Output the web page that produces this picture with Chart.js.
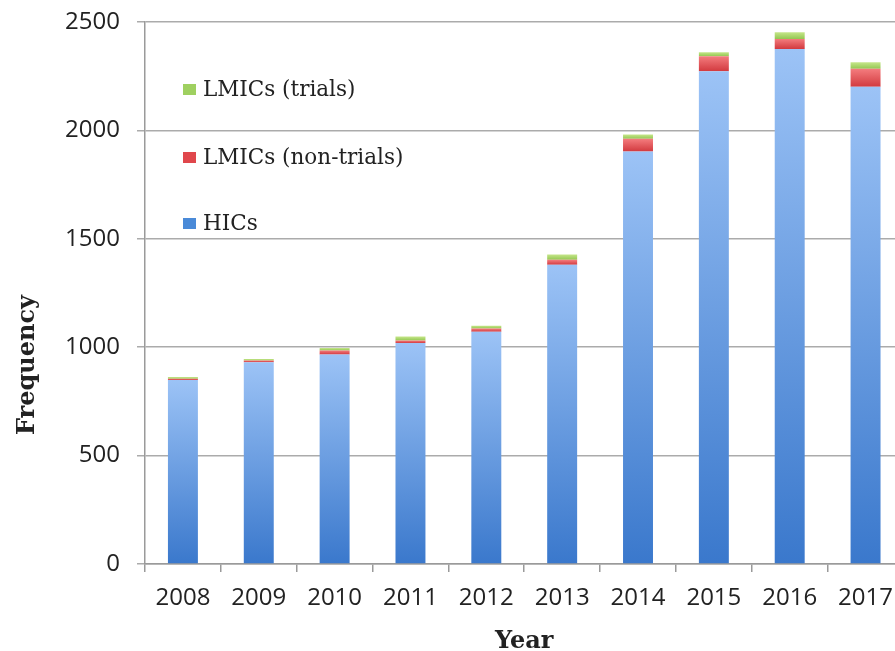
<!DOCTYPE html>
<html><head><meta charset="utf-8">
<style>
html,body{margin:0;padding:0;overflow:hidden;background:#fff;width:895px;height:651px}
#wrap{width:905px;height:651px;position:relative}
</style>
<script src="https://cdn.jsdelivr.net/npm/chart.js@4.4.1/dist/chart.umd.min.js"></script>
</head><body><div id="wrap"><canvas id="c"></canvas></div>
<script>
const years = ['2008','2009','2010','2011','2012','2013','2014','2015','2016','2017'];
const hics = [849, 931, 966, 1019, 1071, 1380, 1903, 2273, 2376, 2201];
const lmicsNonTrials = [5, 8, 19, 12, 15, 23, 58, 69, 46, 83];
const lmicsTrials = [8, 6, 11, 18, 13, 25, 20, 19, 31, 30];
const seriesNames = ['HICs', 'LMICs (non-trials)', 'LMICs (trials)'];
const yMax = 2500, yStep = 500;

const seriesList = [hics, lmicsNonTrials, lmicsTrials];
const gradStops = [
  ['#3a78cc', '#9cc3f6'],
  ['#d23a3f', '#f47c7e'],
  ['#93c752', '#c6e68a']
];
const solid = ['#4a8ad8', '#e0474c', '#9fd060'];

function grad(ctx) {
  const d = ctx.datasetIndex;
  const chart = ctx.chart;
  if (!chart.chartArea || ctx.dataIndex === undefined) return solid[d];
  const i = ctx.dataIndex;
  let start = 0;
  for (let k = 0; k < d; k++) start += seriesList[k][i];
  const end = start + seriesList[d][i];
  const y = chart.scales.y;
  const g = chart.ctx.createLinearGradient(0, y.getPixelForValue(start), 0, y.getPixelForValue(end));
  g.addColorStop(0, gradStops[d][0]);
  g.addColorStop(1, gradStops[d][1]);
  return g;
}

const legendPlugin = {
  id: 'insideLegend',
  afterDraw(chart) {
    const c = chart.ctx, a = chart.chartArea;
    const offs = [202, 136, 68];
    c.save();
    c.font = '21.5px "DejaVu Serif"';
    c.textBaseline = 'middle';
    for (let d = 2; d >= 0; d--) {
      const cy = a.top + offs[d];
      c.fillStyle = solid[d];
      c.fillRect(a.left + 38, cy - 6, 13, 11);
      c.fillStyle = '#222';
      c.fillText(seriesNames[d], a.left + 58, cy);
    }
    // y-axis title
    c.translate(28, 365);
    c.rotate(-Math.PI / 2);
    c.font = 'bold 24px "DejaVu Serif"';
    c.textAlign = 'center';
    c.fillStyle = '#222';
    c.fillText('Frequency', 0, 0);
    c.restore();
  }
};

new Chart(document.getElementById('c'), {
  type: 'bar',
  data: {
    labels: years,
    datasets: seriesList.map((arr, d) => ({
      label: seriesNames[d],
      data: arr,
      backgroundColor: grad,
      borderWidth: 0,
      barPercentage: 0.395,
      categoryPercentage: 1
    }))
  },
  options: {
    responsive: true,
    maintainAspectRatio: false,
    animation: false,
    layout: { padding: { top: 22, left: 0, right: 0, bottom: 0 } },
    plugins: { legend: { display: false }, tooltip: { enabled: false } },
    scales: {
      x: {
        stacked: true,
        afterFit: s => { s.height = 87; },
        grid: { drawOnChartArea: false, drawTicks: true, tickLength: 8, color: '#9a9a9a', lineWidth: 1.5 },
        border: { color: '#9a9a9a', width: 1.5 },
        ticks: { color: '#222', font: { family: '"Open Sans"', size: 24 }, padding: 12, maxRotation: 0, autoSkip: false },
        title: { display: true, text: 'Year', color: '#222', font: { family: '"DejaVu Serif"', size: 24, weight: 'bold', lineHeight: 0.8 }, padding: { top: 0, bottom: 0 } }
      },
      y: {
        stacked: true,
        min: 0, max: yMax,
        afterFit: s => { s.width = 145; },
        grid: { color: '#ababab', lineWidth: 1.5, tickLength: 8, drawTicks: true },
        border: { color: '#9a9a9a', width: 1.5 },
        ticks: { stepSize: yStep, color: '#222', font: { family: '"Open Sans"', size: 24, lineHeight: 0.4 }, padding: 17,
                 callback: v => String(v) }
      }
    }
  },
  plugins: [legendPlugin]
});
</script>
</body></html>
